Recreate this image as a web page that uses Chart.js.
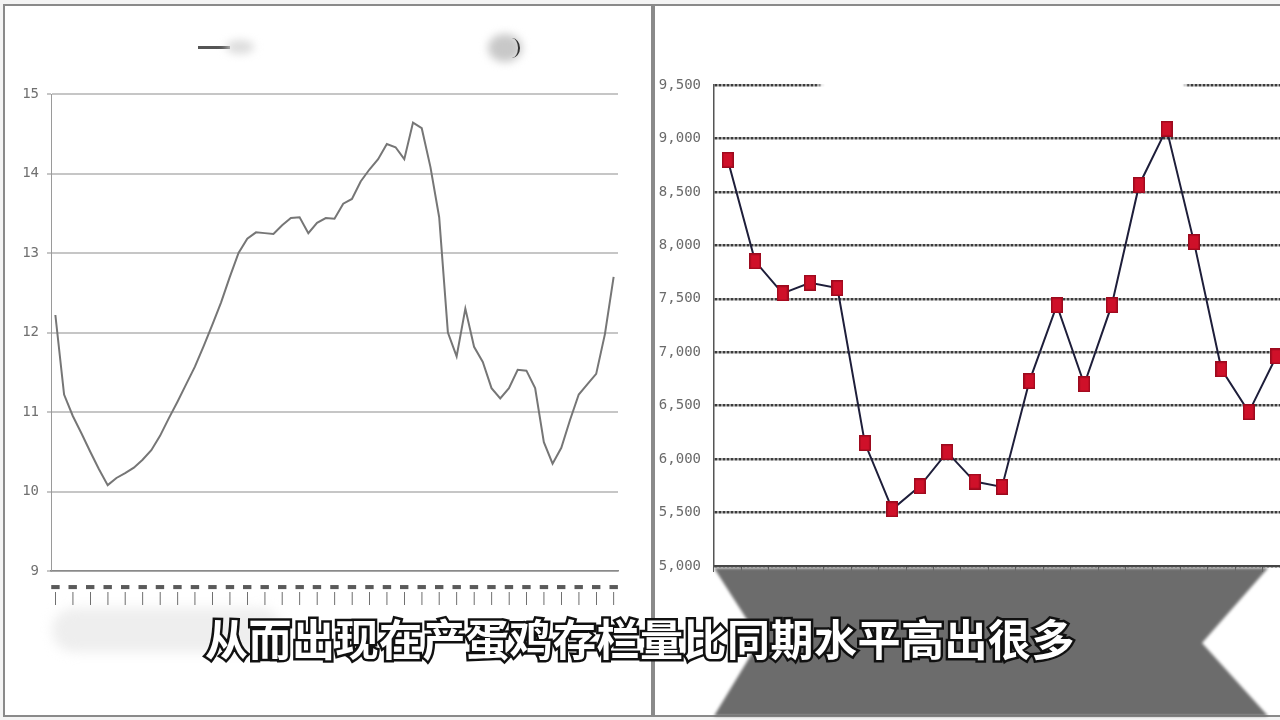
<!DOCTYPE html>
<html><head><meta charset="utf-8">
<script src="https://cdn.jsdelivr.net/npm/chart.js@4.4.0/dist/chart.umd.min.js"></script>
<style>
html,body{margin:0;padding:0;width:1280px;height:720px;overflow:hidden;background:#fff;}
#stage{position:relative;width:1280px;height:720px;overflow:hidden;background:#f4f4f4;}
.frame{position:absolute;box-sizing:border-box;border:2px solid #8a8a8a;background:#fff;}
canvas{position:absolute;}
.abs{position:absolute;}
#sub{position:absolute;left:0;top:612px;width:1280px;text-align:center;font-family:"Noto Sans CJK SC",sans-serif;font-weight:700;font-size:43px;line-height:50px;white-space:nowrap;letter-spacing:0.5px;}
#subBack{color:#111;-webkit-text-stroke:5px #111;}
#subFront{color:#fff;}
</style></head>
<body><div id="stage">
<div class="frame" style="left:3px;top:4px;width:650px;height:713px;"></div>
<div class="frame" style="left:653px;top:4px;width:700px;height:713px;"></div>

<!-- blurred legend remnants (left) -->
<div class="abs" style="left:198px;top:46px;width:32px;height:3px;background:#555;"></div>
<div class="abs" style="left:226px;top:40px;width:28px;height:14px;background:#dcdcdc;border-radius:50%;filter:blur(4px);"></div>
<div class="abs" style="left:488px;top:34px;width:34px;height:28px;background:#c8c8c8;border-radius:50%;filter:blur(4px);"></div>
<div class="abs" style="left:504px;top:38px;width:16px;height:20px;border-right:2px solid #333;border-radius:50%;box-sizing:border-box;"></div>
<div class="abs" style="left:52px;top:608px;width:230px;height:44px;background:#eeeeee;border-radius:22px;filter:blur(6px);"></div>

<canvas id="left" width="650" height="720" style="left:0;top:0;"></canvas>
<canvas id="right" width="645" height="720" style="left:655px;top:0;"></canvas>

<!-- blurred legend cover (right) -->
<div class="abs" style="left:820px;top:72px;width:366px;height:26px;background:#fff;filter:blur(2px);"></div>

<!-- dark bowtie band under the right chart -->
<div class="abs" style="left:0;top:0;width:1280px;height:720px;filter:blur(1.5px);">
  <div class="abs" style="left:0;top:0;width:1280px;height:720px;background:#6c6c6c;clip-path:polygon(714px 568px,1268px 568px,1202px 643px,1268px 716px,714px 716px,760px 640px);"></div>
</div>

<div id="sub"><div id="subBack" class="abs" style="left:0;top:0;width:1280px;">从而出现在产蛋鸡存栏量比同期水平高出很多</div><div id="subFront" class="abs" style="left:0;top:0;width:1280px;">从而出现在产蛋鸡存栏量比同期水平高出很多</div></div>
</div>
<script>
// ---------- data ----------
const leftValues = [
  12.22, 11.22, 10.95, 10.73, 10.50, 10.28, 10.08, 10.17, 10.23, 10.30,
  10.40, 10.52, 10.70, 10.92, 11.13, 11.35, 11.57, 11.83, 12.10, 12.38,
  12.70, 13.00, 13.18, 13.26, 13.25, 13.24, 13.35, 13.44, 13.45, 13.25,
  13.38, 13.44, 13.43, 13.62, 13.68, 13.90, 14.05, 14.18, 14.37, 14.33,
  14.18, 14.64, 14.57, 14.08, 13.45, 12.00, 11.70, 12.30, 11.82, 11.63,
  11.30, 11.17, 11.30, 11.53, 11.52, 11.30, 10.62, 10.35, 10.55, 10.90,
  11.22, 11.35, 11.48, 11.98, 12.70
];
const leftCategories = leftValues.map((_, i) => String(i + 1));
const leftTickMark = ['\u25AC', '\u2502'];
const leftYTicks = { min: 9, max: 15, step: 1 };

const rightCategories = ['1','2','3','4','5','6','7','8','9','10','11','12','13','14','15','16','17','18','19','20','21'];
const rightValues = [8800, 7850, 7550, 7650, 7600, 6150, 5530, 5745, 6065, 5790, 5740, 6730, 7440, 6700, 7440, 8565, 9090, 8030, 6840, 6440, 6960];
const rightYTicks = { min: 5000, max: 9500, step: 500 };

// ---------- marker ----------
function makeMarker() {
  const c = document.createElement('canvas');
  c.width = 12; c.height = 16;
  const g = c.getContext('2d');
  g.fillStyle = '#9c0a1e'; g.fillRect(0, 0, 12, 16);
  g.fillStyle = '#cf1029'; g.fillRect(1.5, 1.5, 9, 13);
  return c;
}

// ---------- left chart ----------
new Chart(document.getElementById('left'), {
  type: 'line',
  data: { labels: leftCategories, datasets: [{ label: 'left', data: leftValues, borderColor: '#767676', borderWidth: 2, pointRadius: 0, tension: 0, fill: false }] },
  options: {
    responsive: false, animation: false, events: [],
    layout: { padding: { top: 94, right: 32, left: 0, bottom: 0 } },
    plugins: { legend: { display: false }, tooltip: { enabled: false } },
    scales: {
      x: {
        type: 'category', offset: true,
        grid: { display: false, drawTicks: false },
        border: { display: true, color: '#8a8a8a', width: 1.5 },
        ticks: { autoSkip: false, maxRotation: 0, minRotation: 0, padding: 10, color: '#5a5a5a',
                 font: { family: 'DejaVu Sans', size: 11, lineHeight: 1.1 },
                 callback: (v, i) => (i % 2 === 0 ? leftTickMark : '') },
        afterFit: s => { s.height = 149; }
      },
      y: {
        min: leftYTicks.min, max: leftYTicks.max,
        ticks: { stepSize: leftYTicks.step, color: '#707070', padding: 8, font: { family: 'DejaVu Sans Mono', size: 14 } },
        grid: { color: '#c6c6c6', lineWidth: 2, drawTicks: true, tickLength: 4 },
        border: { display: true, color: '#9a9a9a', width: 1 },
        afterFit: s => { s.width = 51; }
      }
    }
  }
});

// ---------- right chart ----------
const marker = makeMarker();
new Chart(document.getElementById('right'), {
  type: 'line',
  data: { labels: rightCategories, datasets: [{ label: 'right', data: rightValues, borderColor: '#1e1e3a', borderWidth: 2, tension: 0, fill: false,
    pointStyle: marker, pointRadius: 8 }] },
  options: {
    responsive: false, animation: false, events: [],
    layout: { padding: { top: 85, right: 6, left: 0, bottom: 0 } },
    plugins: { legend: { display: false }, tooltip: { enabled: false } },
    scales: {
      x: {
        type: 'category', offset: true,
        grid: { display: true, offset: true, drawOnChartArea: false, drawTicks: true, tickLength: 6, color: '#555' },
        border: { display: true, color: '#444', width: 2 },
        ticks: { display: false },
        afterFit: s => { s.height = 154; }
      },
      y: {
        min: rightYTicks.min, max: rightYTicks.max,
        ticks: { stepSize: rightYTicks.step, color: '#6a6a6a', padding: 13, font: { family: 'DejaVu Sans Mono', size: 14 },
                 callback: v => Number(v).toLocaleString('en-US') },
        grid: { color: '#3c3c3c', lineWidth: 2.5, drawTicks: false },
        border: { display: true, color: '#555', width: 1.5, dash: [3, 1] },
        afterFit: s => { s.width = 59; }
      }
    }
  }
});
</script>
</body></html>
